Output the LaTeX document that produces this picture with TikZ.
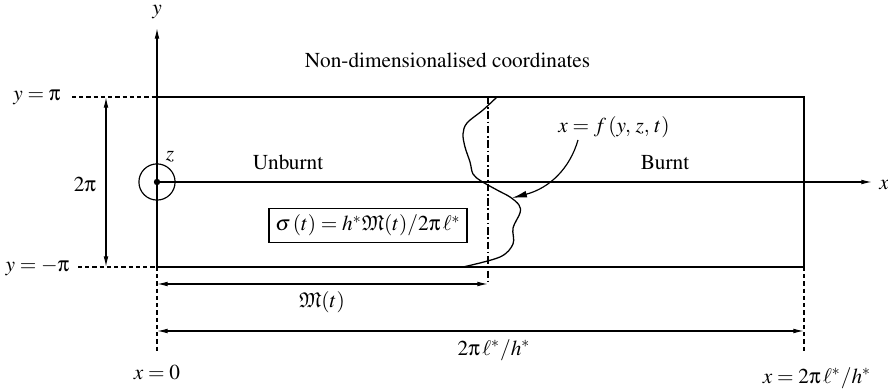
\documentclass[tikz,border=0pt]{standalone}
\usepackage[T1]{fontenc}
\usepackage{mathptmx}
\usepackage{amssymb}
\usepackage[Symbol]{upgreek}
\usetikzlibrary{arrows.meta}
\tikzset{
  ln/.style={line width=0.55pt},
  tipa/.tip={Latex[length=5pt,width=2.2pt]},
  dimarrow/.style={ln,tipa-tipa},
  axisarrow/.style={ln,-tipa},
  guide/.style={ln,dash pattern=on 2pt off 1.4pt},
  dashdot/.style={ln,dash pattern=on 3.5pt off 1.3pt on 0.7pt off 1.3pt},
  lbl/.style={inner sep=1pt},
  frontline/.style={line width=0.6pt},
}
\begin{document}
\begin{tikzpicture}[x=0.47pt,y=-0.47pt]
\useasboundingbox (0,0) rectangle (888,391);
% key coordinates
\coordinate (O) at (157,182);
\coordinate (TL) at (157,97);
\coordinate (BL) at (157,267);
\coordinate (TR) at (804,97);
\coordinate (BR) at (804,267);
\coordinate (ytip) at (157,28);
\coordinate (xtip) at (872,182);
\coordinate (ypl) at (72,97);
\coordinate (ymi) at (78,267);
\coordinate (tpa) at (106,97);
\coordinate (tpb) at (106,267);
\coordinate (x0low) at (157,353);
\coordinate (xLlow) at (804,352);
\coordinate (Ma) at (157,284);
\coordinate (Mb) at (488,284);
\coordinate (Mtop) at (488,97);
\coordinate (La) at (157,331);
\coordinate (Lb) at (804,331);
\coordinate (fs) at (578,140);
\coordinate (fe) at (512,198);
% domain
\draw[ln] (TL) -- (TR) -- (BR) -- (BL);
\draw[axisarrow] (BL) -- (ytip);
\draw[axisarrow] (O) -- (xtip);
\node[lbl] (ylab) at (157,12) {$y$};
\node[lbl] (xlab) at (884,185) {$x$};
% z axis symbol
\node[draw,ln,circle,minimum size=17pt,inner sep=0pt] (zc) at (O) {};
\fill (O) circle (3.2);
\node[lbl] (zlab) at (170,157) {$z$};
% y = pi, y = -pi
\node[lbl] (ypiL) at (37,97) {$y=\uppi$};
\node[lbl] (ympiL) at (37.5,267) {$y=-\uppi$};
\draw[guide] (ypl) -- (TL);
\draw[guide] (ymi) -- (BL);
\draw[dimarrow] (tpa) -- (tpb);
\node[lbl] (twopi) at (85,185) {$2\uppi$};
% texts
\node[lbl] (title) at (447.5,60) {Non-dimensionalised coordinates};
\node[lbl] (unb) at (288,162) {Unburnt};
\node[lbl] (brn) at (665,163) {Burnt};
\node[draw,ln,inner sep=3pt] (sig) at (368,225.5) {$\sigma\,(t)=h^*\mathfrak{M}(t)/2\uppi\,\ell^*$};
\node[lbl] (flab) at (614,127) {$x=f\,(y,\,z,\,t)$};
% front
\draw[dashdot] (Mtop) -- (Mb);
\draw[frontline] plot[smooth,tension=0.55] coordinates {(497,97) (483,110) (467,123) (463,134) (465,147) (470,162) (473,174) (481,181) (497,190) (510,197) (519,205) (520,213) (513,228) (513,244) (500,257) (463,267)};
\draw[ln,-{Latex[length=7pt,width=3.2pt]}] (fs) .. controls (570,168) and (550,188) .. (fe);
% dimension lines
\draw[guide] (BL) -- (x0low);
\draw[guide] (BR) -- (xLlow);
\draw[dimarrow] (Ma) -- (Mb);
\node[lbl] (Mlab) at (322,302) {$\mathfrak{M}(t)$};
\draw[dimarrow] (La) -- (Lb);
\node[lbl] (Llab) at (494,350) {$2\uppi\,\ell^*/h^*$};
\node[lbl] (x0) at (157,373) {$x=0$};
\node[lbl] (xL) at (817,378) {$x=2\uppi\,\ell^*/h^*$};
\end{tikzpicture}
\end{document}
